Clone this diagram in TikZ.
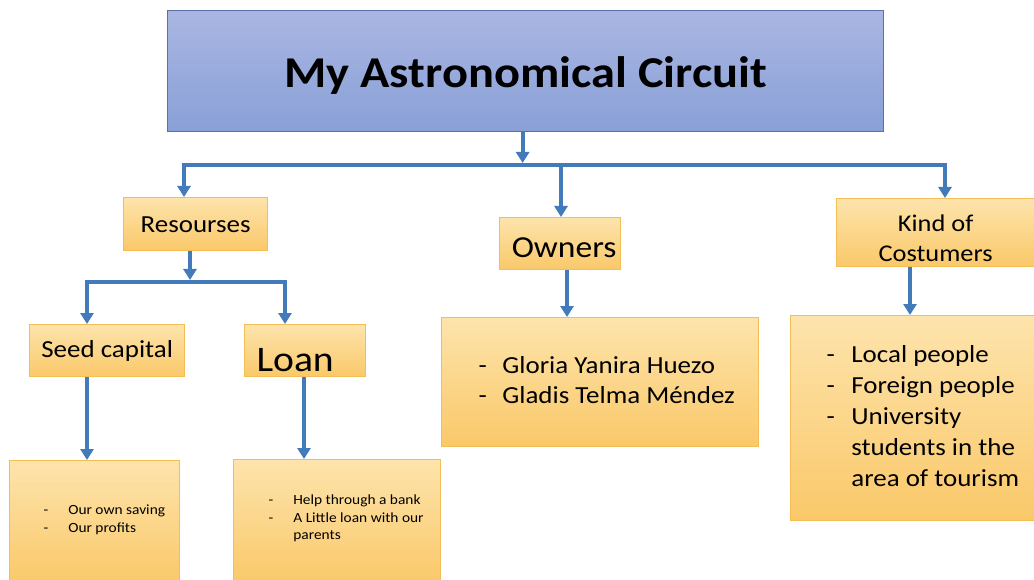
\documentclass[tikz,border=0pt]{standalone}
\usepackage{fontspec}
\setmainfont[FakeStretch=1.1]{Carlito}
\usetikzlibrary{arrows.meta}
\definecolor{arrowblue}{RGB}{66,122,186}
\definecolor{otop}{RGB}{253,228,172}
\definecolor{obot}{RGB}{250,200,105}
\definecolor{oborder}{RGB}{242,190,85}
\definecolor{btop}{RGB}{170,182,226}
\definecolor{bbot}{RGB}{137,160,215}
\definecolor{bborder}{RGB}{92,112,168}
\newcommand{\nsp}{\spaceskip=0pt\xspaceskip=0pt\relax}
\begin{document}
\begin{tikzpicture}[x=1pt,y=-1pt,
  obox/.style={draw=oborder, line width=1.3pt, top color=otop, bottom color=obot,
    anchor=north west, inner sep=0pt, text=black},
  bbox/.style={draw=bborder, line width=1.3pt, top color=btop, bottom color=bbot,
    anchor=north west, inner sep=0pt},
  conn/.style={draw=arrowblue, line width=4pt, line join=miter,
    -{Triangle[width=13pt,length=11pt]}},
  conns/.style={draw=arrowblue, line width=4pt, line join=miter,
    {Triangle[width=13pt,length=11pt]}-{Triangle[width=13pt,length=11pt]}},
  lst/.style={obox, align=left, inner ysep=0pt}
]
\useasboundingbox (0,0) rectangle (1034,580);

% title
\node[bbox, minimum width=716pt, minimum height=121pt, text height=33pt, text depth=0pt,
  font=\fontsize{44}{50}\bfseries\selectfont]
  (title) at (167,10) {My Astronomical Circuit};

% level 1
\node[obox, minimum width=144pt, minimum height=53pt, text height=17pt, text depth=0pt,
  font=\fontsize{24.5}{30}\selectfont]
  (res) at (123,197) {Resourses};
\node[obox, minimum width=121pt, minimum height=52pt, text height=28pt, text depth=0pt,
  font=\fontsize{30.5}{36}\selectfont]
  (own) at (499,217) {\hspace*{8pt}Owners};
\node[obox, minimum width=198pt, minimum height=68pt, align=center,
  font=\fontsize{24}{30}\selectfont]
  (kind) at (836,198) {\nsp\rule{0pt}{28pt}Kind of\\Costumers};

% level 2
\node[obox, minimum width=155pt, minimum height=52pt, text height=14pt, text depth=0pt,
  font=\fontsize{24.5}{30}\selectfont]
  (seed) at (29,324) {Seed capital};
\node[obox, minimum width=121pt, minimum height=52pt, text height=42pt, text depth=0pt,
  font=\fontsize{36}{42}\selectfont]
  (loan) at (244,324) {\hspace*{-20pt}Loan};

% lists
\node[lst, minimum width=317pt, minimum height=129pt, text width=243pt, inner xsep=37pt,
  font=\fontsize{24.5}{30}\selectfont]
  (ownl) at (441,317) {\nsp\begin{tabular}{@{}l@{\hspace{15.5pt}}l@{}}
  - & Gloria Yanira Huezo\\
  - & Gladis Telma Méndez
  \end{tabular}};
\node[lst, minimum width=250pt, minimum height=205pt, text width=178pt, inner xsep=36pt,
  font=\fontsize{24.5}{31}\selectfont]
  (kindl) at (790,315) {\nsp\begin{tabular}{@{}l@{\hspace{16.5pt}}l@{}}
  - & Local people\\
  - & Foreign people\\
  - & University\\
    & students in the\\
    & area of tourism
  \end{tabular}};
\node[lst, minimum width=170pt, minimum height=124pt, text width=102pt, inner xsep=34pt,
  font=\fontsize{14}{18}\selectfont]
  (seedl) at (9,460) {\nsp\begin{tabular}{@{}l@{\hspace{20pt}}l@{}}
  - & Our own saving\\
  - & Our profits\\[5pt]
  \end{tabular}};
\node[lst, minimum width=207pt, minimum height=125pt, text width=137pt, inner xsep=35pt,
  font=\fontsize{14}{17.5}\selectfont]
  (loanl) at (233,459) {\nsp\begin{tabular}{@{}l@{\hspace{20pt}}l@{}}
  - & Help through a bank\\
  - & A Little loan with our\\
    & parents\\[7pt]
  \end{tabular}};

% connectors
\coordinate (bl) at (184,165);
\coordinate (br) at (945,165);
\coordinate (tb) at (522,163);
\coordinate (ob) at (561,167);
\draw[conns] (bl |- res.north) -- (bl) -- (br) -- (br |- kind.north);
\draw[conn] ([xshift=-3pt]title.south) -- ([xshift=-3pt]title.south |- tb);
\draw[conn] (ob) -- (ob |- own.north);

\coordinate (rb) at (190,280);
\coordinate (sl) at (87,282);
\coordinate (sr) at (285,282);
\draw[conn] (rb |- res.south) -- (rb);
\draw[conns] (sl |- seed.north) -- (sl) -- (sr) -- (sr |- loan.north);

\coordinate (sx) at (87,0);
\coordinate (lx) at (304,0);
\coordinate (ox) at (567,0);
\coordinate (kx) at (910,0);
\draw[conn] (sx |- seed.south) -- (sx |- seedl.north);
\draw[conn] (lx |- loan.south) -- (lx |- loanl.north);
\draw[conn] (ox |- own.south) -- (ox |- ownl.north);
\draw[conn] (kx |- kind.south) -- (kx |- kindl.north);
\end{tikzpicture}
\end{document}
